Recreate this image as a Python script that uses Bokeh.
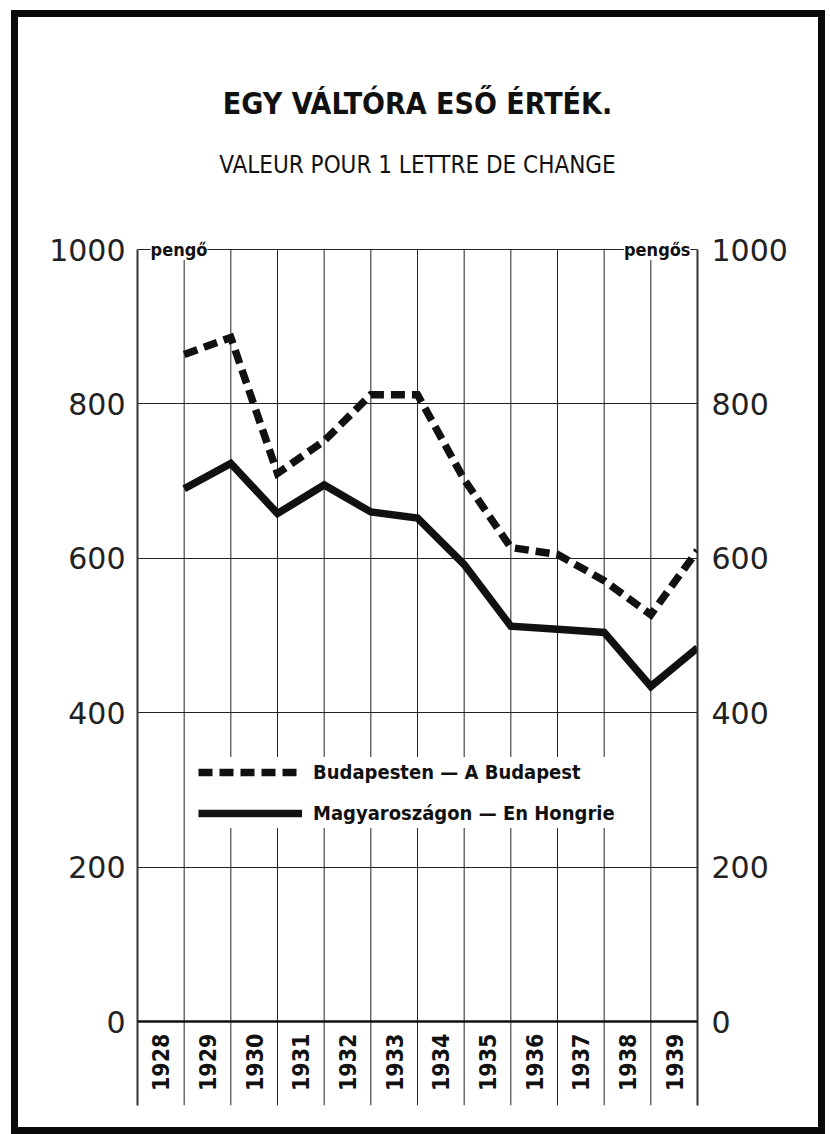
import math
from bokeh.plotting import figure
from bokeh.models import Range1d, LinearAxis, FixedTicker, Label, Legend, LegendItem, Title, Span
from bokeh.layouts import column
from bokeh.embed import file_html
from bokeh.resources import INLINE
from bokeh.core.properties import value

# ---------------- data ----------------
years = ["1928", "1929", "1930", "1931", "1932", "1933",
         "1934", "1935", "1936", "1937", "1938", "1939"]
budapest = [864, 886, 710, 752, 812, 812, 702, 614, 605, 571, 527, 610]
hungary = [690, 723, 658, 695, 660, 652, 592, 512, 508, 504, 434, 484]
y_ticks = [0, 200, 400, 600, 800, 1000]

title_text = "EGY VÁLTÓRA ESŐ ÉRTÉK."
subtitle_text = "VALEUR POUR 1 LETTRE DE CHANGE"
unit_left = "pengő"
unit_right = "pengős"
legend_budapest = "Budapesten — A Budapest"
legend_hungary = "Magyaroszágon — En Hongrie"

# ---------------- styling ----------------
COND = "'Liberation Sans Narrow', 'DejaVu Sans Condensed', sans-serif"
NUMF = "'DejaVu Sans', sans-serif"
INK = "#111111"
GRID = "#222222"

PXU = 0.772            # pixels per value unit (vertical)
BELOW_PX = 84          # label strip below the zero line, inside the frame
TOP_PX = 12            # room above the 1000 line for the unit labels

n = len(years)
edges = list(range(0, n + 1))              # column boundaries
x_pts = [i + 1 for i in range(n)]          # values sit on the right edge of each year column
x_lab = [i + 0.5 for i in range(n)]        # year labels centred in each column
top = y_ticks[-1]

y_start = -BELOW_PX / PXU
y_end = top + TOP_PX / PXU
frame_h = round((y_end - y_start) * PXU)

p = figure(frame_width=560, frame_height=frame_h,
           min_border_left=119, min_border_right=121,
           min_border_top=220, min_border_bottom=22,
           x_range=Range1d(0, n), y_range=Range1d(y_start, y_end),
           output_backend="svg", toolbar_location=None, title=None)
p.background_fill_color = "white"
p.border_fill_color = "white"
p.outline_line_color = None

# horizontal grid (incl. the 1000 line)
p.xgrid.visible = False
p.ygrid.ticker = FixedTicker(ticks=y_ticks[1:])
p.ygrid.grid_line_color = GRID
p.ygrid.grid_line_width = 1

# column lines from the label strip up to the 1000 line
p.segment(x0=edges, y0=[y_start] * len(edges), x1=edges, y1=[top] * len(edges),
          line_color=GRID, line_width=1)

# no drawn x axis; zero line as a heavier rule
p.xaxis.visible = False
p.add_layout(Span(location=0, dimension="width", line_color=INK, line_width=2.5))

# year labels, vertical, in the strip below zero
p.text(x=x_lab, y=[-12 / PXU] * n, text=years, angle=math.pi / 2,
       text_align="right", text_baseline="middle",
       text_font=value(COND), text_font_style="bold", text_font_size="23px",
       text_color=INK)

# left + right value axes
ya = p.yaxis[0]
ra = LinearAxis()
p.add_layout(ra, "right")
for ax, so in ((ya, 12), (ra, 14)):
    ax.ticker = FixedTicker(ticks=y_ticks)
    ax.bounds = (y_start, top)
    ax.major_tick_out = 0
    ax.major_tick_in = 0
    ax.minor_tick_out = 0
    ax.minor_tick_in = 0
    ax.axis_line_color = "#333333"
    ax.axis_line_width = 2
    ax.major_label_standoff = so
    ax.major_label_text_font = NUMF
    ax.major_label_text_font_size = "30px"
    ax.major_label_text_color = "#222222"

# data lines
r_b = p.line(x_pts, budapest, line_width=7.5, line_color=INK, line_dash="14 7",
             line_join="miter", line_cap="butt")
r_h = p.line(x_pts, hungary, line_width=7.5, line_color=INK, line_join="miter")

# unit labels on the top border
p.add_layout(Label(x=0.28, y=top, text=unit_left, text_baseline="middle", text_align="left",
                   text_font=COND, text_font_style="bold", text_font_size="18px",
                   text_color=INK, background_fill_color="white", background_fill_alpha=1))
p.add_layout(Label(x=11.85, y=top, text=unit_right, text_baseline="middle", text_align="right",
                   text_font=COND, text_font_style="bold", text_font_size="18px",
                   text_color=INK, background_fill_color="white", background_fill_alpha=1))

# legend
legend = Legend(items=[LegendItem(label=value(legend_budapest), renderers=[r_b]),
                       LegendItem(label=value(legend_hungary), renderers=[r_h])],
                location=(61, 193 + BELOW_PX), orientation="vertical",
                glyph_width=104, glyph_height=30, label_height=30, label_standoff=11,
                spacing=11, padding=0, margin=0, border_line_color=None,
                background_fill_color="white", background_fill_alpha=1,
                label_text_font=COND, label_text_font_style="bold",
                label_text_font_size="20px", label_text_color=INK)
p.add_layout(legend)

# titles (first added sits closest to the frame); a blank spacer title keeps the gap
p.add_layout(Title(text=" ", text_font_size="1px", standoff=56), "above")
p.add_layout(Title(text=subtitle_text, align="center", text_font=COND, text_font_size="24px",
                   text_font_style="normal", text_color=INK, standoff=0), "above")
p.add_layout(Title(text=title_text, align="center", text_font=COND, text_font_size="30px",
                   text_font_style="bold", text_color=INK, standoff=55), "above")

layout = column(p, styles={"border": "7px solid #0a0a0a", "margin-left": "11px", "margin-top": "10px"})

open("out.html", "w").write(file_html(layout, INLINE))
